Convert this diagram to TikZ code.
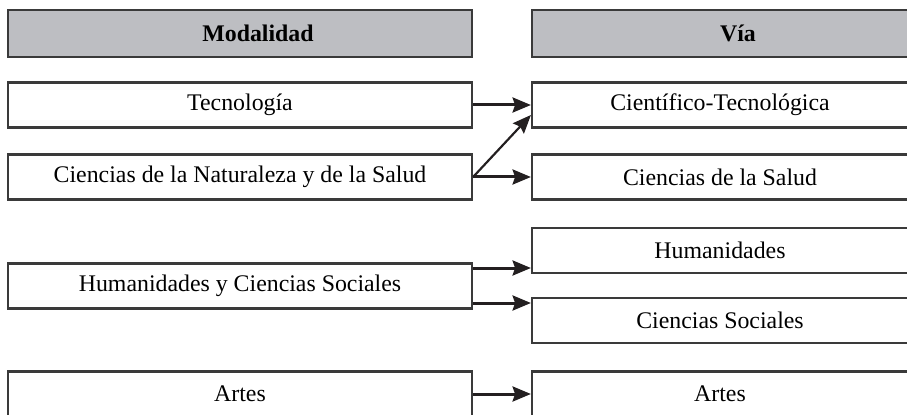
\documentclass[tikz,border=0pt]{standalone}
\usepackage{fontspec}
\setmainfont{Liberation Serif}
\usetikzlibrary{arrows.meta}
\definecolor{boxline}{HTML}{3A3A3A}
\definecolor{headgray}{HTML}{BDBEC2}
\definecolor{arrowink}{HTML}{231F20}

\begin{document}
\begin{tikzpicture}[
      x=0.6pt, y=-0.6pt, % one unit = one pixel of the sketch
      modbox/.style={draw=boxline, line width=1.3pt, minimum width=278.4pt,
        minimum height=27pt, inner sep=0pt, font=\fontsize{14.3}{17}\selectfont},
      viabox/.style={modbox, minimum width=225.6pt},
      header/.style={fill=headgray, minimum height=28.2pt,
        font=\fontsize{14.3}{17}\selectfont\bfseries},
      trans/.style={line width=1.8pt, draw=arrowink,
        -{Stealth[length=11pt,width=9pt,inset=1.5pt]}},
    ]
    \useasboundingbox (0,0) rectangle (907,415);
    % headers
    \node[modbox, header] (modhead) at (240,33.5) {\hspace{21.6pt}Modalidad};
    \node[viabox, header] (viahead) at (720,33.5) {\hspace{21.6pt}Vía};
    % Modalidad column
    \node[modbox] (tec) at (240,105) {Tecnología};
    \node[modbox] (cns) at (240,177) {Ciencias de la Naturaleza y de la Salud};
    \node[modbox] (hcs) at (240,286) {Humanidades y Ciencias Sociales};
    \node[modbox] (art) at (240,394) {Artes};
    % Vía column
    \node[viabox] (cient) at (720,105) {Científico-Tecnológica};
    \node[viabox] (salud) at (720,177) {Ciencias de la Salud};
    \node[viabox] (human) at (720,250.5) {Humanidades};
    \node[viabox] (socia) at (720,320.5) {Ciencias Sociales};
    \node[viabox] (artv) at (720,394) {Artes};
    % links
    \coordinate (hcs-up) at ([yshift=10.8pt]hcs.east);
    \coordinate (hcs-down) at ([yshift=-10.2pt]hcs.east);
    \draw[trans] (tec.east) -- (cient.west);
    \draw[trans] (cns.east) -- (salud.west);
    \draw[trans, line width=1.3pt] (cns.east) -- ([yshift=-6pt]cient.west);
    \draw[trans] (hcs-up) -- (hcs-up -| human.west);
    \draw[trans] (hcs-down) -- (hcs-down -| socia.west);
    \draw[trans] (art.east) -- (artv.west);
\end{tikzpicture}
\end{document}
